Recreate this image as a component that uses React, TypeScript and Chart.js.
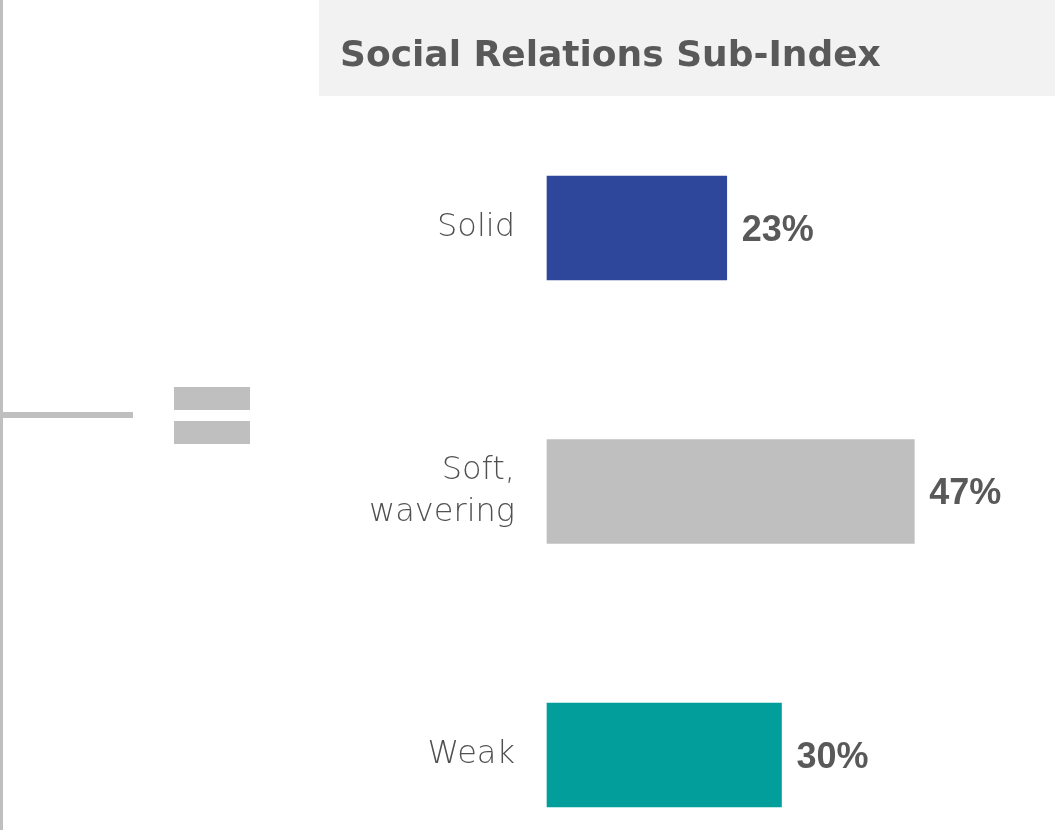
import React, { useEffect, useRef } from "react";
import { Chart, registerables } from "chart.js";

Chart.register(...registerables);

const titleText = "Social Relations Sub-Index";
const categories: (string | string[])[] = ["Solid", ["Soft,", "wavering"], "Weak"];
const values = [23, 47, 30];
const barColors = ["#2f479b", "#bfbfbf", "#029e9b"];
const valueLabels = ["23%", "47%", "30%"];

const TEXT = "#595959";
const DECOR = "#bfbfbf";

const decorPlugin = {
  id: "decor",
  beforeDraw(chart: any) {
    const ctx = chart.ctx;
    ctx.save();
    // title box
    ctx.fillStyle = "#f2f2f2";
    ctx.fillRect(319, 0, 736, 96);
    ctx.fillStyle = TEXT;
    ctx.font = "bold 36px 'DejaVu Sans', sans-serif";
    ctx.textBaseline = "alphabetic";
    ctx.textAlign = "left";
    ctx.fillText(titleText, 340, 66);
    // bracket lines
    ctx.fillStyle = DECOR;
    ctx.fillRect(0, 0, 3, 830);
    ctx.fillRect(0, 412, 133, 6);
    // equals sign
    ctx.fillRect(174, 387, 76, 23);
    ctx.fillRect(174, 421, 76, 23);
    ctx.restore();
  },
};

const valueLabelPlugin = {
  id: "valueLabels",
  afterDatasetsDraw(chart: any) {
    const ctx = chart.ctx;
    const meta = chart.getDatasetMeta(0);
    ctx.save();
    ctx.fillStyle = TEXT;
    ctx.font = "normal normal 700 36px Arial, 'Liberation Sans', sans-serif";
    ctx.textAlign = "left";
    ctx.textBaseline = "middle";
    meta.data.forEach((bar: any, i: number) => {
      ctx.fillText(valueLabels[i], bar.x + 15, bar.y + 3);
    });
    ctx.restore();
  },
};

export default function App() {
  const ref = useRef<HTMLCanvasElement | null>(null);
  useEffect(() => {
    document.body.style.margin = "0";
    const chart = new Chart(ref.current as HTMLCanvasElement, {
      type: "bar",
      data: {
        labels: categories as any,
        datasets: [
          {
            data: values,
            backgroundColor: barColors,
            barThickness: 104,
            clip: false as any,
          },
        ],
      },
      options: {
        indexAxis: "y",
        animation: false,
        responsive: false,
        maintainAspectRatio: false,
        layout: { padding: { top: 228, bottom: 75, left: 0, right: 0 } },
        plugins: {
          legend: { display: false },
          tooltip: { enabled: false },
          title: { display: false },
        },
        scales: {
          x: {
            display: false,
            min: 0,
            max: 65,
          },
          y: {
            offset: false,
            grid: { display: false, drawTicks: false },
            border: { display: false },
            ticks: {
              padding: 32,
              color: "#505050",
              font: { family: "'DejaVu Sans', sans-serif", size: 32, weight: "200", lineHeight: 1.32 },
            },
            afterFit(scale: any) {
              scale.width = 547;
            },
          },
        },
      },
      plugins: [decorPlugin, valueLabelPlugin],
    });
    return () => chart.destroy();
  }, []);
  return (
    <div style={{ position: "relative", width: 1055, height: 830 }}>
      <canvas ref={ref} width={1055} height={830} style={{ display: "block" }} />
    </div>
  );
}
